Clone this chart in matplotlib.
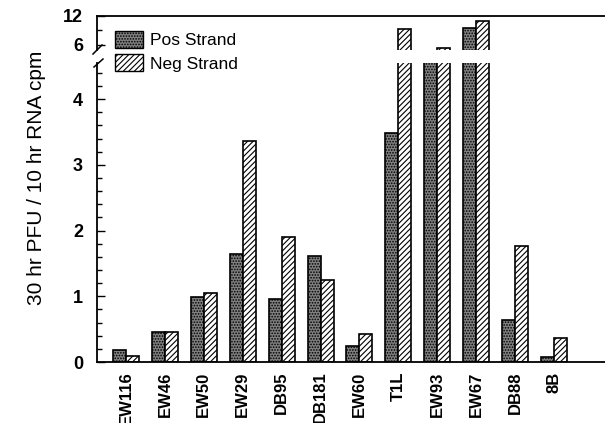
import matplotlib
matplotlib.use("Agg")
import matplotlib.pyplot as plt
import numpy as np
from matplotlib.lines import Line2D
from matplotlib.patches import Patch

plt.rcParams['font.family'] = ['Liberation Sans', 'DejaVu Sans']
plt.rcParams['hatch.linewidth'] = 0.8

categories = ["EW116", "EW46", "EW50", "EW29", "DB95", "DB181", "EW60",
              "T1L", "EW93", "EW67", "DB88", "8B"]
pos_strand = [0.18, 0.46, 0.99, 1.65, 0.96, 1.62, 0.25, 3.48, 4.8, 9.5, 0.64, 0.07]
neg_strand = [0.09, 0.46, 1.05, 3.37, 1.90, 1.25, 0.43, 9.3, 5.4, 11.0, 1.77, 0.36]

W, H = 605, 423
fig = plt.figure(figsize=(W / 100, H / 100), dpi=100)

def fx(px):
    return px / W

def fy(py):
    return 1 - py / H

POS_FC = '#808080'
POS_HATCH = '......'
NEG_HATCH = '//////'

left = fx(97)
right = 1.0
ax_lo = fig.add_axes([left, fy(362), right - left, fy(63) - fy(362)])
ax_hi = fig.add_axes([left, fy(50), right - left, fy(16) - fy(50)])

x = np.arange(len(categories))
bw = 0.334
for ax in (ax_lo, ax_hi):
    ax.bar(x - bw / 2, pos_strand, bw, facecolor=POS_FC, edgecolor='black',
           hatch=POS_HATCH, linewidth=1.2)
    ax.bar(x + bw / 2, neg_strand, bw, facecolor='white', edgecolor='black',
           hatch=NEG_HATCH, linewidth=1.2)
    ax.set_xlim(-0.745, 12.31)
    ax.spines['right'].set_visible(False)
    ax.spines['left'].set_linewidth(1.3)
    ax.tick_params(axis='y', direction='in', labelsize=13, pad=10)

ax_lo.set_ylim(0, 4.55)
ax_lo.spines['top'].set_visible(False)
ax_lo.spines['bottom'].set_linewidth(1.3)
ax_lo.set_yticks([0, 1, 2, 3, 4])
ax_lo.set_yticklabels(['0', '1', '2', '3', '4'], fontweight='bold')
ax_lo.set_yticks(np.arange(0, 4.55, 0.2), minor=True)
ax_lo.tick_params(axis='y', which='major', length=6, width=1)
ax_lo.tick_params(axis='y', which='minor', direction='in', length=3.5, width=1)
ax_lo.set_xticks(x)
ax_lo.set_xticklabels(categories, rotation=90, fontsize=12, fontweight='bold', va='top')
ax_lo.tick_params(axis='x', length=0, pad=7)

ax_hi.set_ylim(4.96, 12)
ax_hi.spines['bottom'].set_visible(False)
ax_hi.spines['top'].set_linewidth(1.3)
ax_hi.set_yticks([6, 12])
ax_hi.set_yticklabels(['6', '12'], fontweight='bold')
ax_hi.set_yticks([9], minor=True)
ax_hi.tick_params(axis='y', which='major', length=6, width=1)
ax_hi.tick_params(axis='y', which='minor', direction='in', length=3.5, width=1)
ax_hi.set_xticks([])

# break marks on the left spine
for (x0, y0, x1, y1) in [(93, 54, 102, 45), (94, 67, 103, 59)]:
    fig.add_artist(Line2D([fx(x0), fx(x1)], [fy(y0), fy(y1)], color='black',
                          linewidth=1.1, transform=fig.transFigure))

fig.text(fx(37), fy(178), "30 hr PFU / 10 hr RNA cpm", rotation=90,
         ha='center', va='center', fontsize=15)

handles = [Patch(facecolor=POS_FC, edgecolor='black', hatch=POS_HATCH, label='Pos Strand'),
           Patch(facecolor='white', edgecolor='black', hatch=NEG_HATCH, label='Neg Strand')]
fig.legend(handles=handles, loc='upper left', bbox_to_anchor=(fx(115), fy(31)),
           frameon=False, fontsize=12.5, handlelength=1.6, handleheight=1.1,
           handletextpad=0.4, labelspacing=0.35, borderaxespad=0, borderpad=0)

fig.savefig("out.png", dpi=100)
